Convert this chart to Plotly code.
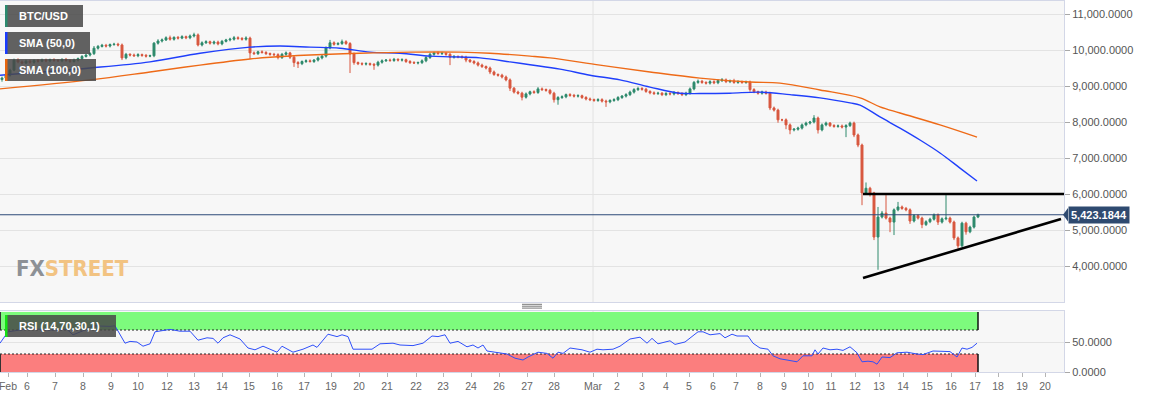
import plotly.graph_objects as go
from plotly.subplots import make_subplots

# ---------------- data (4h candles, x = candle index) ----------------
first_open = 9180
close = [
    9220, 9300, 9440, 9720, 9670, 9640, 9690, 9660, 9710, 9690,
    9720, 9700, 9730, 9710, 9700, 9740, 9710, 9680, 9720, 9760,
    9820, 9860, 9900, 10050, 10100, 10130, 10110, 10150, 10160, 10140,
    9780, 9880, 9860, 9840, 9870, 9850, 9830, 9840, 10190, 10250,
    10280, 10340, 10300, 10350, 10330, 10370, 10340, 10390, 10420, 10140,
    10200, 10230, 10190, 10220, 10170, 10240, 10280, 10300, 10340, 10320,
    10300, 10330, 9920, 9900, 9950, 9930, 9900, 9880, 9870, 9790,
    9880, 9920, 9800, 9650, 9620, 9680, 9700, 9680, 9720, 9780,
    9830, 10060, 10200, 10160, 10180, 10230, 10180, 9890, 9650, 9620,
    9610, 9620, 9600, 9580, 9660, 9700, 9720, 9710, 9740, 9720,
    9730, 9680, 9650, 9640, 9650, 9700, 9790, 9880, 9920, 9900,
    9910, 9880, 9800, 9820, 9810, 9800, 9720, 9680, 9640, 9580,
    9540, 9500, 9390, 9320, 9300, 9250, 9170, 8940, 8830, 8800,
    8690, 8780, 8840, 8820, 8920, 8900, 8880, 8800, 8620, 8680,
    8700, 8760, 8740, 8720, 8730, 8680, 8640, 8620, 8600, 8620,
    8580, 8560, 8600, 8620, 8680, 8720, 8760, 8830, 8900, 8930,
    8910, 8850, 8810, 8790, 8800, 8760, 8790, 8780, 8820, 8790,
    8760, 8800, 8920, 9100, 9130, 9100, 9080, 9120, 9090, 9150,
    9170, 9120, 9140, 9100, 9120, 9100, 9110, 8900, 8840, 8800,
    8830, 8800, 8390, 8330, 8060, 8060, 7920, 7780, 7800, 7830,
    7920, 7970, 8000, 8110, 7780, 7920, 7970, 7900, 7880, 7890,
    7860, 7900, 7970, 7640, 7360, 6030, 6160, 6030, 4805, 5360,
    5470, 5330, 5220, 5560, 5640, 5600, 5560, 5250, 5400, 5330,
    5150, 5230, 5300, 5420, 5220, 5310, 5330, 5220, 4780, 4560,
    5190, 4950, 5080, 5360, 5423,
]
upper_wick = [
    40, 50, 40, 40, 50, 40, 40, 40, 30, 40,
    40, 40, 30, 40, 40, 30, 40, 40, 40, 30,
    40, 30, 40, 60, 40, 40, 40, 30, 40, 40,
    40, 40, 30, 40, 40, 30, 40, 30, 30, 50,
    40, 40, 60, 30, 40, 40, 30, 40, 60, 40,
    40, 40, 30, 40, 40, 40, 30, 40, 50, 40,
    40, 50, 40, 40, 30, 40, 40, 30, 40, 40,
    40, 40, 30, 40, 40, 30, 40, 40, 30, 40,
    40, 40, 80, 40, 40, 60, 40, 40, 40, 30,
    40, 40, 30, 40, 40, 40, 30, 40, 40, 30,
    40, 30, 40, 40, 30, 40, 40, 40, 30, 40,
    40, 30, 40, 40, 30, 40, 40, 30, 40, 40,
    40, 30, 40, 40, 30, 40, 40, 40, 30, 40,
    40, 40, 30, 40, 50, 40, 30, 40, 40, 40,
    40, 30, 40, 40, 40, 30, 40, 40, 30, 40,
    40, 40, 30, 40, 40, 30, 40, 40, 40, 50,
    40, 40, 30, 40, 40, 30, 40, 40, 40, 30,
    40, 40, 40, 40, 50, 40, 30, 40, 40, 40,
    50, 40, 40, 60, 40, 30, 40, 40, 40, 30,
    40, 40, 40, 40, 40, 30, 40, 40, 30, 40,
    40, 40, 30, 80, 40, 40, 40, 30, 40, 40,
    40, 40, 40, 40, 40, 40, 160, 40, 30, 280,
    60, 500, 40, 40, 140, 40, 40, 40, 40, 40,
    40, 40, 40, 40, 40, 40, 640, 40, 40, 40,
    40, 40, 40, 40, 30,
]
lower_wick = [
    60, 40, 40, 30, 40, 40, 30, 40, 40, 40,
    30, 40, 40, 40, 30, 40, 40, 40, 30, 40,
    40, 30, 40, 40, 40, 30, 40, 40, 30, 40,
    60, 40, 40, 30, 40, 40, 40, 30, 40, 40,
    40, 30, 40, 40, 40, 30, 40, 40, 40, 40,
    40, 30, 40, 40, 40, 40, 30, 40, 40, 40,
    40, 40, 170, 40, 40, 30, 40, 40, 40, 50,
    40, 40, 50, 120, 120, 40, 40, 30, 40, 40,
    40, 40, 40, 40, 30, 40, 40, 530, 60, 40,
    40, 40, 40, 130, 40, 40, 30, 40, 40, 40,
    40, 40, 40, 30, 40, 40, 40, 40, 40, 30,
    40, 40, 220, 40, 40, 40, 60, 40, 40, 40,
    40, 40, 60, 40, 40, 40, 40, 80, 40, 40,
    90, 40, 40, 40, 40, 40, 40, 40, 80, 140,
    40, 40, 40, 40, 40, 40, 40, 40, 40, 40,
    40, 140, 40, 40, 40, 40, 40, 40, 40, 40,
    40, 40, 40, 40, 40, 40, 40, 40, 40, 40,
    40, 40, 40, 40, 40, 40, 40, 40, 40, 40,
    40, 40, 40, 40, 40, 40, 40, 60, 40, 40,
    40, 40, 60, 40, 80, 40, 120, 120, 40, 40,
    40, 40, 40, 40, 100, 40, 40, 40, 40, 40,
    40, 280, 40, 60, 60, 340, 40, 100, 85, 910,
    40, 40, 280, 360, 40, 40, 40, 80, 40, 40,
    100, 40, 40, 40, 80, 40, 40, 40, 60, 80,
    40, 80, 40, 40, 30,
]

sma50_x = [-0.5, 22, 37, 49.5, 62, 69.5, 77, 84.5, 92, 99.5, 107, 112, 119.5, 127, 132,
           139.5, 147, 154.5, 162, 169.5, 174.5, 182, 189.5, 197, 204.5, 212, 214.5,
           219.5, 224.5, 229.5, 234.5, 239.5, 243.75]
sma50_y = [9300, 9500, 9670, 9910, 10080, 10110, 10080, 10050, 9940, 9910, 9830, 9810, 9780,
           9670, 9590, 9470, 9300, 9170, 8970, 8800, 8790, 8800, 8830, 8760, 8670, 8530,
           8470, 8140, 7830, 7500, 7140, 6720, 6360]
sma100_x = [-0.5, 22, 37, 49.5, 62, 67, 77, 89.5, 102, 114.5, 122, 132, 137, 149.5, 162,
            174.5, 187, 194.5, 204.5, 214.5, 219.5, 224.5, 234.5, 243.75]
sma100_y = [8920, 9170, 9390, 9580, 9750, 9800, 9860, 9910, 9940, 9940, 9910, 9830, 9780,
            9580, 9390, 9220, 9110, 9080, 8890, 8670, 8420, 8250, 7920, 7580]

rsi_x = [-0.5, 1.5, 4.5, 7.75, 12, 16.25, 17.75, 20.75, 22.75, 27, 28.25, 30.75, 32, 33.75,
         35.25, 37, 38.25, 42, 44.5, 47, 49, 51.25, 52.75, 54, 55.25, 57, 59.5, 61.5, 63.25,
         65.25, 68.75, 70, 72.75, 75.25, 77.75, 78.75, 81.5, 83.75, 85, 86.5, 87.75, 91.25,
         92.5, 94.5, 97.75, 99.5, 102.75, 105.25, 107.5, 109, 110.75, 112, 114, 116.25,
         117.75, 119, 120.25, 121.25, 123.75, 126.25, 128.25, 130.25, 131.5, 134, 136.25,
         137.75, 139, 140.25, 142, 145, 147, 148.75, 150.25, 152.75, 154.5, 157, 159.5,
         161.25, 162.5, 164, 167, 168.25, 170.75, 172.5, 174, 175.25, 177, 179.5, 180.75,
         182.5, 183.75, 186.5, 187.75, 189.5, 191.5, 192.75, 194.5, 196.25, 198.75, 200.25,
         202.5, 203.25, 204, 205.25, 207, 208.75, 210.25, 212, 213.75, 215, 216.5, 217.75,
         218.75, 220, 222, 223.75, 226.25, 228.75, 230.25, 232.75, 235.25, 237, 238.75,
         240, 241.25, 242.5, 243.75]
rsi_y = [48, 67, 70, 72, 70, 71, 62, 70, 77, 76, 77, 48, 51, 50,
         43, 47, 67, 71, 68, 68, 53, 57, 56, 48, 57, 62, 55, 40, 37,
         43, 33, 43, 33, 38, 45, 41, 63, 59, 62, 59, 38, 38,
         38, 47, 48, 45, 44, 48, 60, 59, 62, 48, 51, 42,
         45, 40, 45, 35, 32, 30, 23, 20, 25, 33, 31,
         23, 33, 31, 40, 37, 33, 38, 37, 38, 43, 55, 58,
         48, 56, 47, 52, 46, 50, 60, 67, 67, 62, 64, 57,
         63, 60, 60, 48, 40, 38, 27, 22, 20, 17, 27,
         27, 37, 30, 40, 37, 38, 36, 42, 32, 17, 18, 17,
         13, 25, 24, 32, 33, 30, 29, 35, 34, 34, 25,
         40, 38, 41, 48]

tick_pos = [1.5, 6.25, 13.25, 20.25, 27.25, 34, 41.25, 48, 55, 61.75, 68.75, 75.5, 82.25,
            89.25, 96.25, 103.5, 110.25, 117.25, 124.25, 131.25, 138, 147.75, 153.75, 160,
            166, 171.75, 177.75, 183.5, 189.5, 195.5, 201.5, 207.25, 213.25, 219.25, 225.25,
            231.25, 237.25, 243.25, 249, 255, 260.75]
tick_text = ["Feb", "6", "7", "8", "9", "10", "12", "13", "14", "15", "16", "17", "19",
             "20", "21", "22", "23", "24", "26", "27", "28", "Mar", "2", "3",
             "4", "5", "6", "7", "8", "9", "10", "11", "12", "13", "14",
             "15", "16", "17", "18", "19", "20"]
price_ticks = [4000, 5000, 6000, 7000, 8000, 9000, 10000, 11000]
rsi_ticks = [0, 50]

last_price = 5423.1844
resistance_x = [215.25, 265.5]
resistance_y = [6000, 6000]
support_x = [215.25, 264.75]
support_y = [3667, 5306]
rsi_upper, rsi_lower = 70, 30
rsi_band_end = 244
mar_pos = 147.75

# ---------------- styling ----------------
UP = "#2e8a6c"
DN = "#d8573f"
FONT = "Liberation Sans, Arial, sans-serif"
FRAME = "#d3d7e7"
W, H = 1153, 399
L, R, T, B = 0, 89, 1, 27
PW, PH = W - L - R, H - T - B


def px(x):
    return (x - L) / PW


def py(y):
    return (H - B - y) / PH


opens = [first_open] + close[:-1]
highs = [max(o, c) + u for o, c, u in zip(opens, close, upper_wick)]
lows = [min(o, c) - d for o, c, d in zip(opens, close, lower_wick)]
idx = list(range(len(close)))

fig = make_subplots(rows=2, cols=1, shared_xaxes=True)

fig.add_trace(go.Candlestick(
    x=idx, open=opens, high=highs, low=lows, close=close,
    increasing=dict(line=dict(color=UP, width=1), fillcolor=UP),
    decreasing=dict(line=dict(color=DN, width=1), fillcolor=DN),
    showlegend=False, hoverinfo="skip"), row=1, col=1)
fig.add_trace(go.Scatter(x=sma50_x, y=sma50_y, mode="lines",
                         line=dict(color="#1f3ffb", width=1.4, shape="spline"),
                         hoverinfo="skip"), row=1, col=1)
fig.add_trace(go.Scatter(x=sma100_x, y=sma100_y, mode="lines",
                         line=dict(color="#ee6a17", width=1.4, shape="spline"),
                         hoverinfo="skip"), row=1, col=1)
fig.add_trace(go.Scatter(x=resistance_x, y=resistance_y, mode="lines",
                         line=dict(color="black", width=2.6), hoverinfo="skip"), row=1, col=1)
fig.add_trace(go.Scatter(x=support_x, y=support_y, mode="lines",
                         line=dict(color="black", width=2.6), hoverinfo="skip"), row=1, col=1)
fig.add_trace(go.Scatter(x=rsi_x, y=rsi_y, mode="lines",
                         line=dict(color="#2f4ffa", width=1), hoverinfo="skip"), row=2, col=1)

xr = [-0.5, 265.5]
axis_common = dict(showline=True, mirror=True, linecolor=FRAME, linewidth=1, zeroline=False)
fig.update_layout(
    width=W, height=H, margin=dict(l=L, r=R, t=T, b=B),
    paper_bgcolor="white", plot_bgcolor="#f7f7f7", showlegend=False,
    font=dict(family=FONT),
    xaxis=dict(range=xr, showgrid=False, showticklabels=False, ticks="",
               rangeslider=dict(visible=False), **axis_common),
    xaxis2=dict(range=xr, showgrid=False, tickmode="array", tickvals=tick_pos,
                ticktext=tick_text, ticks="outside", ticklen=4, tickcolor="#b5b5b5",
                tickfont=dict(size=10.5, color="#666666"), ticklabeloverflow="allow",
                rangeslider=dict(visible=False), **axis_common),
    yaxis=dict(domain=[py(302), 1], range=[3000, 11361], side="right",
               tickmode="array", tickvals=price_ticks, tickformat=",.4f",
               gridcolor="#e3e3e3", ticks="outside", ticklen=5, tickcolor="#a8a8a8",
               tickfont=dict(size=11, color="#555555"), **axis_common),
    yaxis2=dict(domain=[0, py(311)], range=[0, 101.67], side="right",
                tickmode="array", tickvals=rsi_ticks, tickformat=",.4f",
                gridcolor="#e3e3e3", ticks="outside", ticklen=5, tickcolor="#a8a8a8",
                tickfont=dict(size=11, color="#555555"), **axis_common),
)

shapes = []
# RSI bands
shapes.append(dict(type="rect", xref="x2", yref="y2", x0=xr[0], x1=rsi_band_end, y0=rsi_upper,
                   y1=100, fillcolor="#7dfb7d", line=dict(width=0), layer="below"))
shapes.append(dict(type="rect", xref="x2", yref="y2", x0=xr[0], x1=rsi_band_end, y0=0,
                   y1=rsi_lower, fillcolor="#fb7e7e", line=dict(width=0), layer="below"))
for lvl in (rsi_upper, rsi_lower):
    shapes.append(dict(type="line", xref="x2", yref="y2", x0=xr[0], x1=rsi_band_end, y0=lvl,
                       y1=lvl, line=dict(color="#222222", width=1, dash="2px,2px"), layer="below"))
for y0, y1 in ((rsi_upper, 100), (0, rsi_lower)):
    shapes.append(dict(type="line", xref="x2", yref="y2", x0=rsi_band_end, x1=rsi_band_end,
                       y0=y0, y1=y1, line=dict(color="#111111", width=1.5), layer="below"))
    shapes.append(dict(type="line", xref="x2", yref="y2", x0=xr[0], x1=xr[0],
                       y0=y0, y1=y1, line=dict(color="#333333", width=2), layer="below"))
# Mar gridline
shapes.append(dict(type="line", xref="x", yref="y domain", x0=mar_pos, x1=mar_pos, y0=0, y1=1,
                   line=dict(color="#e2e2e2", width=1), layer="below"))
shapes.append(dict(type="line", xref="x2", yref="y2 domain", x0=mar_pos, x1=mar_pos, y0=0, y1=1,
                   line=dict(color="#e2e2e2", width=1), layer="below"))
# last price line + pointer
shapes.append(dict(type="line", xref="x", yref="y", x0=xr[0], x1=xr[1], y0=last_price,
                   y1=last_price, line=dict(color="#2c4a78", width=1), layer="above"))
shapes.append(dict(type="path", xref="paper", yref="y",
                   path=f"M {px(1063)},{last_price} L {px(1068)},{last_price + 190} "
                        f"L {px(1068)},{last_price - 190} Z",
                   fillcolor="#2e4a70", line=dict(width=0)))
# legend boxes
boxes = [(5, 83, 5, 27, "#2b8a6e"), (5, 90, 32, 54, "#1a3cff"),
         (5, 96, 59, 81, "#e8660e"), (5, 116, 315, 337, "#14e014")]
for x0, x1, y0, y1, col in boxes:
    shapes.append(dict(type="rect", xref="paper", yref="paper", x0=px(x0), x1=px(x1),
                       y0=py(y1), y1=py(y0), fillcolor="rgba(72,72,72,0.86)",
                       line=dict(width=0), layer="above"))
    shapes.append(dict(type="rect", xref="paper", yref="paper", x0=px(x0), x1=px(x0 + 2.5),
                       y0=py(y1), y1=py(y0), fillcolor=col, line=dict(width=0), layer="above"))
# panel drag handle
for yy in (304.3, 306.2, 308.1):
    shapes.append(dict(type="line", xref="paper", yref="paper", x0=px(522), x1=px(542),
                       y0=py(yy), y1=py(yy), line=dict(color="#777777", width=1)))
fig.update_layout(shapes=shapes)

ann = []
labels = [("BTC/USD", 16), ("SMA (50,0)", 43), ("SMA (100,0)", 70), ("RSI (14,70,30,1)", 326)]
for txt, yc in labels:
    ann.append(dict(text=f"<b>{txt}</b>", xref="paper", yref="paper", x=px(17), y=py(yc),
                    xanchor="left", yanchor="middle", showarrow=False,
                    font=dict(family=FONT, size=11, color="white")))
ann.append(dict(text="<b>5,423.1844</b>", xref="paper", yref="y", x=px(1068), y=last_price,
                xanchor="left", yanchor="middle", showarrow=False, bgcolor="#2e4a70",
                borderpad=2, font=dict(family=FONT, size=11, color="white")))
ann.append(dict(text="<b><span style='color:#8d9196'>FX</span>"
                     "<span style='color:#f2c382'>STREET</span></b>",
                xref="paper", yref="paper", x=px(14), y=py(268), xanchor="left",
                yanchor="middle", showarrow=False,
                font=dict(family="DejaVu Sans Condensed, Liberation Sans Narrow, sans-serif",
                          size=22)))
fig.update_layout(annotations=ann)

fig.write_html("out.html",
               config={"displayModeBar": False},
               post_script="document.body.style.margin='0px';"
                           "document.body.style.overflow='hidden';")
